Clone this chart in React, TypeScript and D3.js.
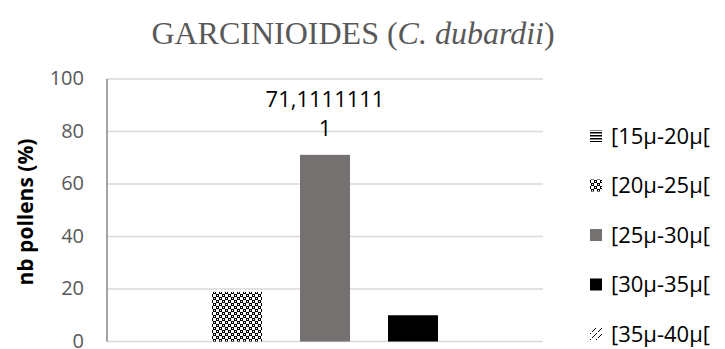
import React from "react";
import * as d3 from "d3";

const categories = ["GARCINIOIDES"];
const seriesNames = ["[15μ-20μ[", "[20μ-25μ[", "[25μ-30μ[", "[30μ-35μ[", "[35μ-40μ["];
const seriesValues = [0, 18.8888889, 71.1111111, 10, 0];
const yTicks = [0, 20, 40, 60, 80, 100];
const dataLabelLines = ["71,1111111", "1"];
const labelledSeries = 2;

const W = 725;
const H = 349;
const margin = { left: 107, right: 182, top: 79, bottom: 7.5 };

const fills = [
  "url(#pat-hlines)",
  "url(#pat-checker)",
  "#767171",
  "#000000",
  "url(#pat-dash)",
];

export default function App() {
  const x0 = d3
    .scaleBand<string>()
    .domain(categories)
    .range([margin.left, W - margin.right])
    .paddingInner(0)
    .paddingOuter(0);
  const y = d3.scaleLinear().domain([0, 100]).range([H - margin.bottom, margin.top]);
  const groupW = x0.bandwidth();
  const x1 = d3
    .scaleBand<number>()
    .domain(seriesNames.map((_, i) => i))
    .range([0, groupW])
    .paddingInner(38 / 88)
    .paddingOuter(0.1932);
  const font = "'Open Sans', 'Liberation Sans', sans-serif";
  const cx = x0(categories[0])! + x1(labelledSeries)! + x1.bandwidth() / 2;
  const labelTop = y(seriesValues[labelledSeries]);

  return (
    <svg width={W} height={H} style={{ position: "absolute", left: 0, top: 0, background: "#fff" }}>
      <defs>
        <pattern id="pat-checker" width="6" height="6" patternUnits="userSpaceOnUse">
          <rect width="6" height="6" fill="#fff" />
          <rect x="0" y="0" width="3" height="3" fill="#000" />
          <rect x="3" y="3" width="3" height="3" fill="#000" />
          <rect x="1" y="1" width="1" height="1" fill="#fff" />
          <rect x="4" y="4" width="1" height="1" fill="#fff" />
        </pattern>
        <pattern id="pat-hlines" width="4" height="3" patternUnits="userSpaceOnUse">
          <rect width="4" height="3" fill="#fff" />
          <rect width="4" height="1.5" fill="#000" />
        </pattern>
        <pattern id="pat-dash" width="6" height="6" patternUnits="userSpaceOnUse">
          <rect width="6" height="6" fill="#fff" />
          <path d="M0,6 L3,3 M4,2 L6,0" stroke="#000" strokeWidth="1" />
        </pattern>
      </defs>
      <rect width={W} height={H} fill="#fff" />
      <text x={353} y={44} textAnchor="middle" fontFamily="'Liberation Serif', 'Times New Roman', serif" fontSize={32} fill="#595959">
        GARCINIOIDES (<tspan fontStyle="italic">C. dubardii</tspan>)
      </text>
      {yTicks.map((t) => (
        <g key={t}>
          {t > 0 && (
            <line x1={margin.left} x2={W - margin.right} y1={y(t)} y2={y(t)} stroke="#d9d9d9" strokeWidth={1.5} />
          )}
          <text x={84} y={y(t)} dy="0.3em" textAnchor="end" fontFamily={font} fontSize={20} fill="#595959">
            {t}
          </text>
        </g>
      ))}
      <line x1={margin.left} x2={W - margin.right} y1={y(0)} y2={y(0)} stroke="#d9d9d9" strokeWidth={1.5} />
      <line x1={margin.left} x2={margin.left} y1={y(100)} y2={y(0)} stroke="#868686" strokeWidth={1.5} />
      {categories.map((c) => (
        <g key={c}>
          {seriesValues.map((v, i) => (
            <rect
              key={i}
              x={x0(c)! + x1(i)!}
              y={y(v)}
              width={x1.bandwidth()}
              height={y(0) - y(v)}
              fill={fills[i]}
            />
          ))}
        </g>
      ))}
      {dataLabelLines.map((l, i) => (
        <text key={i} x={cx} y={labelTop - 48 + i * 29} textAnchor="middle" fontFamily={font} fontSize={22} fill="#000">
          {l}
        </text>
      ))}
      <text
        transform={`translate(33,212) rotate(-90)`}
        textAnchor="middle"
        fontFamily={font}
        fontWeight="bold"
        fontSize={21}
        fill="#000"
      >
        nb pollens (%)
      </text>
      {seriesNames.map((s, i) => {
        const ly = 136 + i * 49.5;
        return (
          <g key={s}>
            <rect x={590} y={ly - 6} width={12} height={12} fill={fills[i]} />
            <text x={611} y={ly} dy="0.35em" fontFamily={font} fontSize={22} fill="#000">
              {s}
            </text>
          </g>
        );
      })}
    </svg>
  );
}
